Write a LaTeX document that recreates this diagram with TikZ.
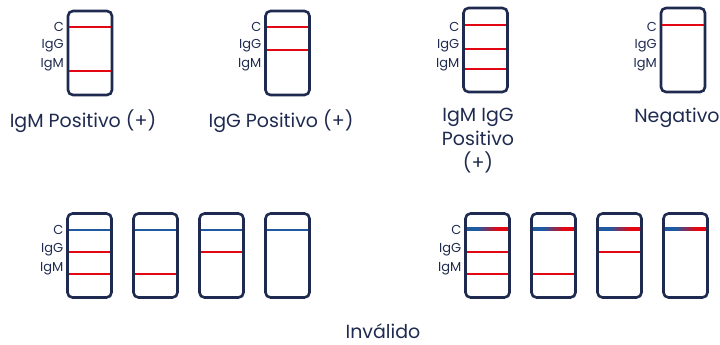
\documentclass[tikz,border=0pt]{standalone}
\usepackage{fontspec}
\setmainfont{Poppins}
\usepackage{xcolor}
\usetikzlibrary{calc}
\definecolor{ink}{HTML}{1E2A4F}
\definecolor{posred}{HTML}{E30613}
\definecolor{ctlblue}{HTML}{1F5AA0}
\pgfdeclarehorizontalshading{cline}{100bp}{color(0bp)=(ctlblue); color(38bp)=(ctlblue); color(62bp)=(posred); color(100bp)=(posred)}

\begin{document}
\begin{tikzpicture}[x=1pt,y=-1pt,
  every node/.style={font=\fontsize{13}{14}\selectfont\color{ink}},
  strip/.style={draw=ink, line width=2.6pt, rounded corners=5pt, minimum width=44pt, minimum height=84pt, inner sep=0pt, outer sep=0pt},
  band/.style={line width=2.8pt, shorten <=1.3pt, shorten >=1.3pt},
  lbl/.style={anchor=east, inner sep=0pt, xshift=-4pt},
  caption/.style={font=\fontsize{19}{24}\selectfont\color{ink}, align=center, inner sep=1pt}]
  \useasboundingbox (0,0) rectangle (720,345);
  % Valid results
  \node[strip] (s1) at (90,53) {};
  \node[strip] (s2) at (287.5,53) {};
  \node[strip] (s3) at (485.5,50) {};
  \node[strip] (s4) at (683,50) {};
  \foreach \s in {s1,s2,s3,s4}
    \foreach \t/\y in {C/27,IgG/46,IgM/65}
      \node[lbl] (\s-\t) at (\s.west |- 0,\y) {\t};
  \draw[band,posred] (s1.west |- 0,27) -- (s1.east |- 0,27);
  \draw[band,posred] (s1.west |- 0,71) -- (s1.east |- 0,71);
  \draw[band,posred] (s2.west |- 0,27) -- (s2.east |- 0,27);
  \draw[band,posred] (s2.west |- 0,50) -- (s2.east |- 0,50);
  \draw[band,posred] (s3.west |- 0,25) -- (s3.east |- 0,25);
  \draw[band,posred] (s3.west |- 0,49) -- (s3.east |- 0,49);
  \draw[band,posred] (s3.west |- 0,69) -- (s3.east |- 0,69);
  \draw[band,posred] (s4.west |- 0,25) -- (s4.east |- 0,25);
  \node[caption] (m) at (83,121) {IgM Positivo (+)};
  \node[caption] (g) at (281,121) {IgG Positivo (+)};
  \node[caption] (mg) at (478,141) {IgM IgG\\Positivo\\(+)};
  \node[caption] (neg) at (677,118) {Negativo};
  % Invalid results
  \foreach \n/\x in {i1/89.5,i2/155.5,i3/221.5,i4/287.5,j1/487.5,j2/553.5,j3/619.5,j4/685.5}
    \node[strip] (\n) at (\x,255.5) {};
  \foreach \s in {i1,j1}
    \foreach \t/\y in {C/230,IgG/250,IgM/269}
      \node[lbl] (\s-\t) at (\s.west |- 0,\y) {\t};
  \foreach \s in {i1,i2,i3,i4}
    \draw[band,ctlblue] (\s.west |- 0,230) -- (\s.east |- 0,230);
  \foreach \s in {j1,j2,j3,j4}
    \shade[shading=cline] ($(\s.west |- 0,229)+(1.3pt,1.3pt)$) rectangle ($(\s.east |- 0,229)+(-1.3pt,-1.3pt)$);
  \foreach \s in {i1,i3,j1,j3}
    \draw[band,posred] (\s.west |- 0,252) -- (\s.east |- 0,252);
  \foreach \s in {i1,i2,j1,j2}
    \draw[band,posred] (\s.west |- 0,274) -- (\s.east |- 0,274);
  \node[caption] (inv) at (383,331) {Inválido};
\end{tikzpicture}
\end{document}
